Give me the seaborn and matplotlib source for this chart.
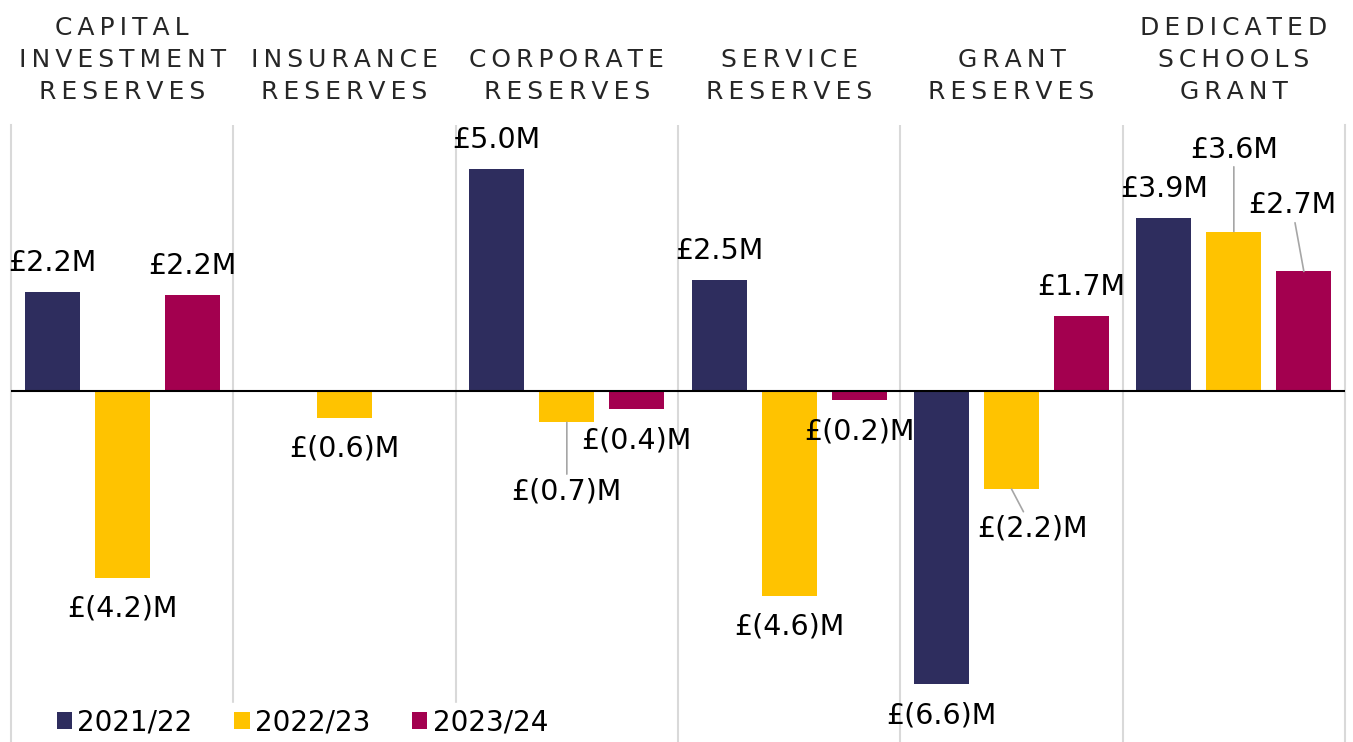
import matplotlib
matplotlib.use('Agg')
import matplotlib.pyplot as plt
import pandas as pd
import seaborn as sns

# 数据
categories = ['Capital Investment Reserves', 'Insurance Reserves', 'Corporate Reserves',
              'Service Reserves', 'Grant Reserves', 'Dedicated Schools Grant']
tick_labels = ['CAPITAL\nINVESTMENT\nRESERVES', 'INSURANCE\nRESERVES', 'CORPORATE\nRESERVES',
               'SERVICE\nRESERVES', 'GRANT\nRESERVES', 'DEDICATED\nSCHOOLS\nGRANT']
years = ['2021/22', '2022/23', '2023/24']
values_2021 = [2.24, None, 5.0, 2.5, -6.6, 3.9]
values_2022 = [-4.2, -0.6, -0.7, -4.6, -2.2, 3.6]
values_2023 = [2.18, None, -0.4, -0.2, 1.7, 2.7]
colors = ['#2E2D5E', '#FFC300', '#A3004F']

sns.set_style('white')
plt.rcParams['font.family'] = ['DejaVu Sans']
plt.rcParams['text.color'] = 'black'

rows = []
for year, vals in zip(years, [values_2021, values_2022, values_2023]):
    for cat, v in zip(categories, vals):
        if v is not None:
            rows.append({'category': cat, 'year': year, 'value': v})
df = pd.DataFrame(rows)

W, H = 1353, 742
fig = plt.figure(figsize=(W / 100, H / 100), dpi=100)
ax = fig.add_axes([11 / W, 0, 1334 / W, 617 / H])

sns.barplot(data=df, x='category', y='value', hue='year', order=categories,
            hue_order=years, palette=colors, width=0.945, gap=0.215,
            errorbar=None, saturation=1, linewidth=0, ax=ax)

ax.set_xlim(-0.5, 5.5)
ax.set_ylim(-7.9, 6.0)
ax.set_xlabel('')
ax.set_ylabel('')
ax.set_yticks([])

# 分隔线
for x in [0.5, 1.5, 2.5, 3.5, 4.5]:
    ax.axvline(x, color='#D9D9D9', lw=1.5, zorder=0)
for side in ['left', 'right']:
    ax.spines[side].set_color('#D9D9D9')
    ax.spines[side].set_linewidth(1.5)
for side in ['top', 'bottom']:
    ax.spines[side].set_visible(False)
ax.axhline(0, color='black', lw=1.5, zorder=3)

# 顶部类别标签（字母间距）
spaced = ['\n'.join('\u2009'.join(line) for line in lab.split('\n')) for lab in tick_labels]
ax.set_xticks(range(len(categories)))
ax.set_xticklabels(spaced, fontsize=18)
ax.tick_params(axis='x', top=True, labeltop=True, bottom=False, labelbottom=False,
               length=0, pad=15)
for t in ax.get_xticklabels():
    t.set_linespacing(1.42)

# 数据标签
px = 72 / 100
special = {(2, 1): (0, -69), (4, 1): (21, -40), (5, 1): (0, 82), (5, 2): (-12, 66)}
for yi, cont in enumerate(ax.containers):
    for rect in cont:
        h = rect.get_height()
        xc = rect.get_x() + rect.get_width() / 2
        ci = int(round(xc))
        txt = f'£{h:.1f}M' if h >= 0 else f'£({-h:.1f})M'
        if (ci, yi) in special:
            dx, dy = special[(ci, yi)]
            ax.annotate(txt, xy=(xc, h), xytext=(dx * px, dy * px), textcoords='offset points',
                        ha='center', va='center', fontsize=20.5, zorder=5,
                        arrowprops=dict(arrowstyle='-', color='#A6A6A6', lw=1.2,
                                        shrinkA=0, shrinkB=0))
        else:
            dy = 29 if h >= 0 else -31
            ax.annotate(txt, xy=(xc, h), xytext=(0, dy * px), textcoords='offset points',
                        ha='center', va='center', fontsize=20.5, zorder=5)

sns.move_legend(ax, 'lower left', bbox_to_anchor=(0.03, 0), ncol=3, title=None,
                frameon=True, facecolor='white', edgecolor='white', framealpha=1,
                fontsize=20, handlelength=0.55, handleheight=0.55, handletextpad=0.2,
                columnspacing=1.5, borderpad=0.2, borderaxespad=0)

fig.savefig('out.png', dpi=100)
